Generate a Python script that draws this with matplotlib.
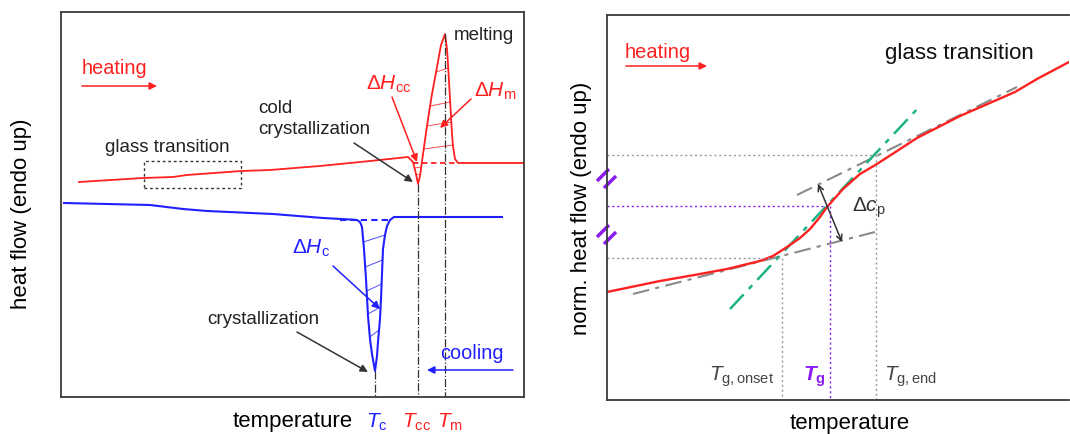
import numpy as np
import matplotlib.pyplot as plt
from matplotlib.patches import Rectangle
from matplotlib.transforms import ScaledTranslation

plt.rcParams['font.family'] = ['Liberation Sans', 'DejaVu Sans']
plt.rcParams['mathtext.fontset'] = 'custom'
plt.rcParams['mathtext.rm'] = 'Liberation Sans'
plt.rcParams['mathtext.it'] = 'Liberation Sans:italic'
plt.rcParams['mathtext.bf'] = 'Liberation Sans:bold'
plt.rcParams['mathtext.bfit'] = 'Liberation Sans:bold:italic'

# ---- left: DSC heating and cooling scan (arbitrary units) ----
heat_T = [79, 143, 173, 187, 241, 270, 320, 370, 408, 413, 416, 418, 420, 424, 428,
          432, 437, 441, 445, 447, 448, 450, 452, 453, 455, 458, 523]
heat_q = [252, 256, 257, 259, 263, 264, 268, 273, 277, 272, 260, 250, 258, 287, 315,
          340, 367, 389, 400, 385, 370, 335, 300, 288, 275, 271, 271]
cool_T = [64, 150, 183, 207, 273, 323, 350, 357, 360, 362, 364, 366, 368, 370, 372,
          375, 377, 378, 380, 381, 382, 383, 385, 387, 390, 394, 502]
cool_q = [231, 229, 225, 223, 220, 216, 214.5, 214, 212, 207, 185, 155, 118, 95, 80,
          63, 78, 92, 115, 135, 160, 185, 199, 208, 214, 217, 217]
heat_base_T = [413, 455]
heat_base_q = [271, 271]
cool_base_T = [340, 392]
cool_base_q = [214, 214]
melt_hatch = [285, 308, 328, 362]
dip_hatch = [259, 266]
cryst_hatch = [97, 120, 143, 167, 192]
T_c, T_cc, T_m = 375, 418, 445

# ---- right: glass transition step ----
glass_T = [607, 660, 700, 727, 760, 773, 787, 800, 810, 820, 827, 843, 860, 877, 897,
           917, 960, 1015, 1037, 1069]
glass_q = [142, 153, 160, 165, 173, 178, 187, 196, 205, 217, 227, 245, 260, 270, 283,
           296, 318, 342, 355, 372]
glassy_T, glassy_q = [633, 875], [140, 202]
liquid_T, liquid_q = [797, 1017], [239, 347]
infl_T, infl_q = [730, 920], [125, 328]
T_onset, T_g, T_end = 782, 830, 876
q_onset, q_g, q_end = 176, 228, 279
dcp_T, dcp_q = [818, 842], [250, 192]
breaks_q = [255, 199]

RED = '#ff2020'
BLUE = '#2020ff'
GREEN = '#1db383'
PURPLE = '#8a1cf0'
DARK = '#333333'
GREY = '#8a8a8a'

fig = plt.figure(figsize=(10.7, 4.35), dpi=100)
ax1 = fig.add_axes([61/1070, 37/435, 463/1070, 385/435])
ax2 = fig.add_axes([607/1070, 34/435, 462/1070, 385/435])

for ax in (ax1, ax2):
    for s in ax.spines.values():
        s.set_color('#3a3a3a')
        s.set_linewidth(1.3)
    ax.set_yticks([])
ax2.spines['right'].set_visible(False)

# left panel
ax1.set_xlim(61, 524)
ax1.set_ylim(37, 422)
ax1.plot(heat_T, heat_q, color=RED, lw=1.3)
ax1.plot(cool_T, cool_q, color=BLUE, lw=1.5)
ax1.plot(heat_base_T, heat_base_q, color=RED, lw=1.3, ls=(0, (3, 2)))
ax1.plot(cool_base_T, cool_base_q, color=BLUE, lw=1.5, ls=(0, (3, 2)))

hT, hq = np.array(heat_T), np.array(heat_q)
i_dip = int(np.argmin(np.where(hT > 400, hq, 1e9)))
i_pk = int(np.argmax(hq))
i0 = 8
# hatching under melting peak / in cold crystallization dip
for y0 in melt_hatch:
    xl = np.interp(y0, hq[i_dip:i_pk + 1], hT[i_dip:i_pk + 1])
    xr = np.interp(y0 + 4, hq[i_pk:][::-1], hT[i_pk:][::-1])
    ax1.plot([xl, xr], [y0, y0 + 4], color=RED, lw=0.7, alpha=0.8)
for y0 in dip_hatch:
    xl = np.interp(y0, hq[i0:i_dip + 1][::-1], hT[i0:i_dip + 1][::-1])
    xr = np.interp(y0 + 1, hq[i_dip:i_pk + 1], hT[i_dip:i_pk + 1])
    ax1.plot([xl, xr], [y0, y0 + 1], color=RED, lw=0.7, alpha=0.8)

cT, cq = np.array(cool_T), np.array(cool_q)
j_pk = int(np.argmin(cq))
for y0 in cryst_hatch:
    xl = np.interp(y0, cq[:j_pk + 1][::-1], cT[:j_pk + 1][::-1])
    xr = np.interp(y0 + 7, cq[j_pk:], cT[j_pk:])
    ax1.plot([xl, xr], [y0, y0 + 7], color=BLUE, lw=0.7, alpha=0.8)

for T, series in ((T_c, (cT, cq)), (T_cc, (hT, hq)), (T_m, (hT, hq))):
    qv = np.interp(T, series[0], series[1])
    ax1.plot([T, T], [qv, 37], color=DARK, lw=0.9, ls='-.')

ax1.add_patch(Rectangle((144, 246), 97, 27, fill=False, ec=DARK, lw=1.0, ls=(0, (2, 2))))

def arrow(ax, xy0, xy1, color, style='-|>', lw=1.1, ms=11):
    ax.annotate('', xy=xy1, xytext=xy0,
                arrowprops=dict(arrowstyle=style, color=color, lw=lw,
                                mutation_scale=ms, shrinkA=0, shrinkB=0))

ax1.text(82, 366, 'heating', color=RED, fontsize=14.3, va='center')
arrow(ax1, (82, 348), (157, 348), RED)
ax1.text(105, 287, 'glass transition', fontsize=13.5, color='#222222', va='center')
ax1.text(258, 316, 'cold\ncrystallization', fontsize=13.5, color='#222222',
         va='center', linespacing=1.35)
arrow(ax1, (354, 291), (413, 252), DARK)
ax1.text(366, 351, r'$\Delta H_\mathrm{cc}$', color=RED, fontsize=15, va='center')
arrow(ax1, (392, 337), (417, 272), RED)
ax1.text(474, 344, r'$\Delta H_\mathrm{m}$', color=RED, fontsize=15, va='center')
arrow(ax1, (471, 335), (440, 306), RED)
ax1.text(454, 399, 'melting', fontsize=13.5, color='#222222', va='center')
ax1.text(292, 187, r'$\Delta H_\mathrm{c}$', color=BLUE, fontsize=15, va='center')
arrow(ax1, (333, 168), (380, 125), BLUE)
ax1.text(207, 115, 'crystallization', fontsize=13.5, color='#222222', va='center')
arrow(ax1, (297, 102), (368, 62), DARK)
ax1.text(440, 81, 'cooling', color=BLUE, fontsize=14.3, va='center')
arrow(ax1, (513, 64), (427, 64), BLUE)

ax1.tick_params(axis='x', length=0, pad=10)
ax1.set_xticks([T_c, T_cc, T_m],
               labels=[r'$T_\mathrm{c}$', r'$T_\mathrm{cc}$', r'$T_\mathrm{m}$'],
               fontsize=15)
for lab, col, shift in zip(ax1.get_xticklabels(), [BLUE, RED, RED], [2, -2, 5]):
    lab.set_color(col)
    lab.set_transform(lab.get_transform() + ScaledTranslation(shift / 100, 0, fig.dpi_scale_trans))
ax1.set_xlabel('temperature', fontsize=16)
ax1.xaxis.set_label_coords(0.5, -0.035)
ax1.xaxis.label.set_va('top')
ax1.set_ylabel('heat flow (endo up)', fontsize=16)
ax1.yaxis.set_label_coords(-0.063, 0.478)

# right panel
ax2.set_xlim(607, 1069)
ax2.set_ylim(34, 419)
ax2.set_xticks([])
ax2.plot(glassy_T, glassy_q, color=GREY, lw=1.5, ls=(0, (8, 3, 2, 3)))
ax2.plot(liquid_T, liquid_q, color=GREY, lw=1.5, ls=(0, (8, 3, 2, 3)))
ax2.plot(infl_T, infl_q, color=GREEN, lw=1.8, ls=(0, (8, 3, 2, 3)))
ax2.plot(glass_T, glass_q, color=RED, lw=1.7)

for T, q, col in ((T_onset, q_onset, '#999999'), (T_end, q_end, '#999999'), (T_g, q_g, PURPLE)):
    ax2.plot([607, T], [q, q], color=col, lw=1.0, ls=(0, (1.5, 2)))
    ax2.plot([T, T], [q, 34], color=col, lw=1.0, ls=(0, (1.5, 2)))

arrow(ax2, (dcp_T[0], dcp_q[0]), (dcp_T[1], dcp_q[1]), DARK, style='<->', lw=1.1, ms=10)
ax2.text(852, 227, r'$\Delta c_\mathrm{p}$', color=DARK, fontsize=15, va='center')

for qb in breaks_q:
    for dx in (-4, 3):
        ax2.plot([607 + dx - 6, 607 + dx + 6], [qb - 6 - dx, qb + 6 - dx], color=PURPLE,
                 lw=2.5, solid_capstyle='butt', clip_on=False)

ax2.text(625, 383, 'heating', color=RED, fontsize=14.5, va='center')
arrow(ax2, (626, 368), (707, 368), RED)
ax2.text(885, 382, 'glass transition', fontsize=16, color='#111111', va='center')
ax2.text(709, 58, r'$T_\mathrm{g,onset}$', color='#444444', fontsize=15, va='center')
ax2.text(803, 58, r'$\mathbfit{T}_\mathbf{g}$', color=PURPLE, fontsize=15, va='center')
ax2.text(884, 58, r'$T_\mathrm{g,end}$', color='#444444', fontsize=15, va='center')
ax2.set_xlabel('temperature', fontsize=16)
ax2.xaxis.set_label_coords(0.526, -0.03)
ax2.xaxis.label.set_va('top')
ax2.set_ylabel('norm. heat flow (endo up)', fontsize=16)
ax2.yaxis.set_label_coords(-0.032, 0.501)

fig.savefig('out.png', dpi=100)
